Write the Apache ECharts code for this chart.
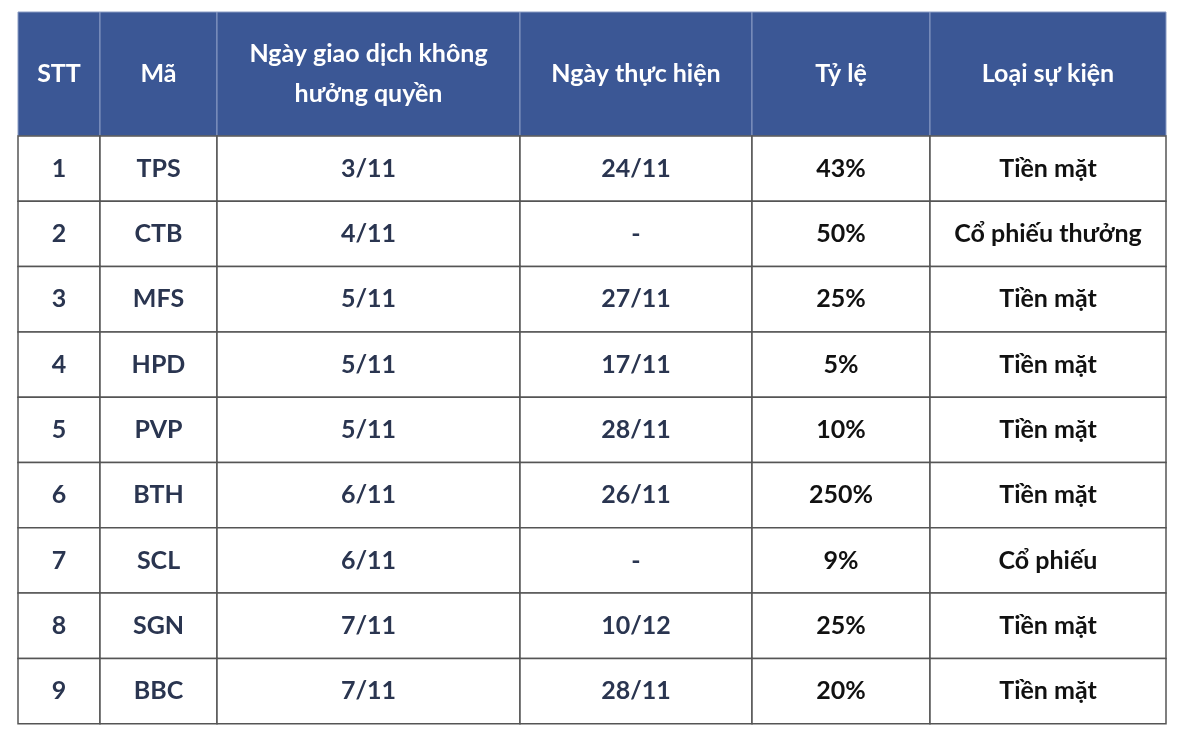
<!DOCTYPE html>
<html><head><meta charset="utf-8">
<script src="https://cdn.jsdelivr.net/npm/echarts@6/dist/echarts.min.js"></script>
<style>html,body{margin:0;background:#fff}#c{width:1200px;height:730px}</style>
</head><body><div id="c"></div>
<script>
const headers = ['STT','Mã','Ngày giao dịch không\nhưởng quyền','Ngày thực hiện','Tỷ lệ','Loại sự kiện'];
const stt = ['1','2','3','4','5','6','7','8','9'];
const codes = ['TPS','CTB','MFS','HPD','PVP','BTH','SCL','SGN','BBC'];
const exDates = ['3/11','4/11','5/11','5/11','5/11','6/11','6/11','7/11','7/11'];
const payDates = ['24/11','-','27/11','17/11','28/11','26/11','-','10/12','28/11'];
const ratios = ['43%','50%','25%','5%','10%','250%','9%','25%','20%'];
const eventTypes = ['Tiền mặt','Cổ phiếu thưởng','Tiền mặt','Tiền mặt','Tiền mặt','Tiền mặt','Cổ phiếu','Tiền mặt','Tiền mặt'];

const colEdges = [0,82,199,502,734,912,1148];
const headH = 124, rowH = 65.3;
const cols = [stt,codes,exDates,payDates,ratios,eventTypes];
const cells = [];
headers.forEach((h,c)=>cells.push([c,-1,h]));
for(let r=0;r<stt.length;r++) for(let c=0;c<cols.length;c++) cells.push([c,r,cols[c][r]]);
const totalH = headH + rowH*stt.length;

const chart = echarts.init(document.getElementById('c'));
chart.setOption({
  animation:false,
  grid:{left:18,top:12,width:1148,height:totalH},
  xAxis:{type:'value',min:0,max:1148,show:false},
  yAxis:{type:'value',min:0,max:totalH,inverse:true,show:false},
  series:[{
    type:'custom',
    data:cells,
    renderItem:(params,api)=>{
      const c=api.value(0), r=api.value(1), txt=cells[params.dataIndex][2];
      const y0 = r<0?0:headH+r*rowH, y1 = r<0?headH:headH+(r+1)*rowH;
      const p0=api.coord([colEdges[c],y0]), p1=api.coord([colEdges[c+1],y1]);
      const isHead=r<0;
      return {type:'group',children:[
        {type:'rect',shape:{x:p0[0],y:p0[1],width:p1[0]-p0[0],height:p1[1]-p0[1]},
          style:{fill:isHead?'#3b5795':'#fff',stroke:isHead?'#8a9cc4':'#555',lineWidth:isHead?1:1.5}},
        {type:'text',style:{text:txt,x:(p0[0]+p1[0])/2,y:(p0[1]+p1[1])/2,align:'center',verticalAlign:'middle',
          font:'bold 25px Lato, "Open Sans", sans-serif',lineHeight:40,
          fill:isHead?'#fff':(c<4?'#2a3550':'#111')}}
      ]};
    }
  }]
});
</script></body></html>
